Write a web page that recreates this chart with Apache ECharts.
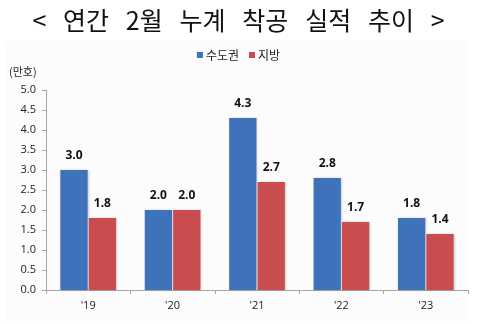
<!DOCTYPE html>
<html>
<head>
<meta charset="utf-8">
<script src="https://cdn.jsdelivr.net/npm/echarts@6/dist/echarts.min.js"></script>
<style>
  html, body { margin: 0; padding: 0; background: #ffffff; }
  #chart { width: 477px; height: 324px; }
</style>
</head>
<body>
<div id="chart"></div>
<script>
// Year labels on the category axis
const years = ["'19", "'20", "'21", "'22", "'23"];
// Cumulative starts through February, in units of 10,000 homes
const capitalArea = [3.0, 2.0, 4.3, 2.8, 1.8];
const provinces = [1.8, 2.0, 2.7, 1.7, 1.4];
// Value axis ticks
const yMin = 0, yMax = 5, yStep = 0.5;

const chart = echarts.init(document.getElementById('chart'), null, { renderer: 'canvas' });

const labelStyle = {
  show: true,
  position: 'top',
  distance: 8,
  formatter: p => p.value.toFixed(1),
  fontFamily: 'Open Sans, Noto Sans, sans-serif',
  fontWeight: 'bold',
  fontSize: 12,
  color: '#111'
};

chart.setOption({
  animation: false,
  backgroundColor: '#ffffff',
  graphic: [
    { type: 'rect', left: 6, top: 41, shape: { width: 462, height: 280 },
      style: { fill: '#fcfcfc' }, z: -10 },
    { type: 'text', left: 9, top: 66,
      style: { text: '(만호)', fontSize: 11, fill: '#222',
               fontFamily: 'Noto Sans CJK KR, sans-serif' } }
  ],
  title: {
    text: '<   연간   2월   누계   착공   실적   추이   >',
    left: 'center',
    top: 3,
    textStyle: {
      fontFamily: 'Noto Sans CJK KR, sans-serif',
      fontWeight: 'normal',
      fontSize: 25,
      color: '#111'
    }
  },
  legend: {
    top: 44,
    left: 'center',
    itemWidth: 6,
    itemHeight: 6,
    itemGap: 10,
    icon: 'rect',
    textStyle: { fontSize: 12, color: '#222', fontFamily: 'Noto Sans CJK KR, sans-serif', padding: [0, 0, 0, -2] },
    data: ['수도권', '지방']
  },
  grid: { left: 46, right: 9, top: 90, bottom: 34, containLabel: false },
  xAxis: {
    type: 'category',
    data: years,
    axisLine: { lineStyle: { color: '#a6a6a6' } },
    axisTick: { show: true, length: 4, lineStyle: { color: '#a6a6a6' } },
    axisLabel: { fontSize: 11, color: '#222', margin: 10, fontFamily: 'Open Sans, sans-serif' }
  },
  yAxis: {
    type: 'value',
    min: yMin, max: yMax, interval: yStep,
    axisLine: { show: true, lineStyle: { color: '#a6a6a6' } },
    axisTick: { show: true, length: 4, lineStyle: { color: '#a6a6a6' } },
    splitLine: { show: false },
    axisLabel: { fontSize: 11, color: '#222', margin: 10,
                 formatter: v => v.toFixed(1), fontFamily: 'Open Sans, sans-serif' }
  },
  series: [
    {
      name: '수도권',
      type: 'bar',
      data: capitalArea,
      barGap: '4%',
      barCategoryGap: '34%',
      itemStyle: { color: '#3e72ba', shadowColor: 'rgba(0,0,0,0.18)', shadowBlur: 2, shadowOffsetX: 1 },
      label: labelStyle
    },
    {
      name: '지방',
      type: 'bar',
      data: provinces,
      itemStyle: { color: '#c94d4f', shadowColor: 'rgba(0,0,0,0.18)', shadowBlur: 2, shadowOffsetX: 1 },
      label: labelStyle
    }
  ]
});
</script>
</body>
</html>
